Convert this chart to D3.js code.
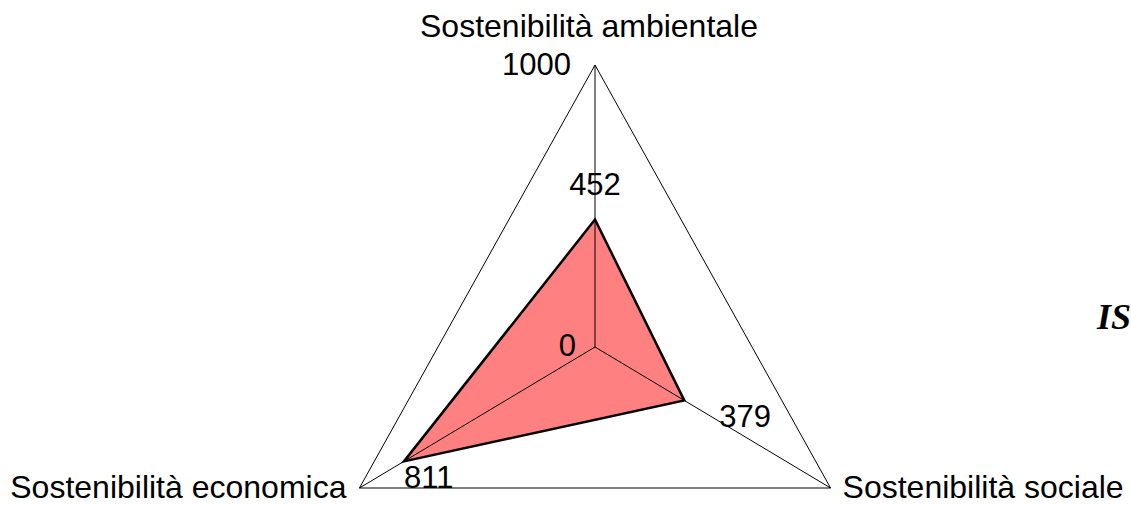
<!DOCTYPE html>
<html>
<head>
<meta charset="utf-8">
<script src="https://cdn.jsdelivr.net/npm/d3@7"></script>
<style>
  body { margin: 0; background: #fff; }
  text { font-family: "Liberation Sans", Arial, sans-serif; fill: #000; }
</style>
</head>
<body>
<div id="chart"></div>
<script>
// data
const axes = ["Sostenibilità ambientale", "Sostenibilità sociale", "Sostenibilità economica"];
const values = [452, 379, 811];
const maxValue = 1000;
const seriesName = "IS";

const W = 1131, H = 506;
const cx = 595, cy = 347;
const rx = 272, ry = 282;

const svg = d3.select("#chart").append("svg")
  .attr("width", W).attr("height", H);

const r = d3.scaleLinear().domain([0, maxValue]).range([0, 1]);
const angle = i => (i * 2 * Math.PI) / axes.length;
const pt = (i, v) => [cx + Math.sin(angle(i)) * rx * r(v), cy - Math.cos(angle(i)) * ry * r(v)];

// series polygon
const line = d3.line();
svg.append("path")
  .attr("d", line(values.map((v, i) => pt(i, v))) + "Z")
  .attr("fill", "#ff8080")
  .attr("stroke", "none");

// grid: outer triangle + spokes
svg.append("path")
  .attr("d", line(axes.map((a, i) => pt(i, maxValue))) + "Z")
  .attr("fill", "none").attr("stroke", "#000").attr("stroke-width", 1);
axes.forEach((a, i) => {
  const [x, y] = pt(i, maxValue);
  svg.append("line").attr("x1", cx).attr("y1", cy).attr("x2", x).attr("y2", y)
    .attr("stroke", "#000").attr("stroke-width", 1);
});

svg.append("path")
  .attr("d", line(values.map((v, i) => pt(i, v))) + "Z")
  .attr("fill", "none")
  .attr("stroke", "#000")
  .attr("stroke-width", 2.5)
  .attr("stroke-linejoin", "miter");

// axis labels
const fs = 32, fn = 31;
const [tx, ty] = pt(0, maxValue);
svg.append("text").attr("x", tx - 6).attr("y", 37).attr("text-anchor", "middle")
  .style("font-size", fs + "px").text(axes[0]);
const [sx, sy] = pt(1, maxValue);
svg.append("text").attr("x", sx + 12).attr("y", 498).attr("text-anchor", "start")
  .style("font-size", fs + "px").text(axes[1]);
const [ex, ey] = pt(2, maxValue);
svg.append("text").attr("x", ex - 13).attr("y", 498).attr("text-anchor", "end")
  .style("font-size", fs + "px").text(axes[2]);

// scale labels
svg.append("text").attr("x", tx - 24).attr("y", 75).attr("text-anchor", "end")
  .style("font-size", fn + "px").text(maxValue);
svg.append("text").attr("x", cx - 19).attr("y", 356).attr("text-anchor", "end")
  .style("font-size", fn + "px").text(0);

// value labels
const p0 = pt(0, values[0]);
svg.append("text").attr("x", p0[0]).attr("y", p0[1] - 25).attr("text-anchor", "middle")
  .style("font-size", fn + "px").text(values[0]);
const p1 = pt(1, values[1]);
svg.append("text").attr("x", p1[0] + 35).attr("y", p1[1] + 27).attr("text-anchor", "start")
  .style("font-size", fn + "px").text(values[1]);
const p2 = pt(2, values[2]);
svg.append("text").attr("x", p2[0]).attr("y", p2[1] + 27).attr("text-anchor", "start")
  .style("font-size", fn + "px").text(values[2]);

// legend
svg.append("text").attr("x", 1097).attr("y", 329)
  .style("font-family", "'Liberation Serif', 'Times New Roman', serif")
  .style("font-weight", "bold").style("font-style", "italic")
  .style("font-size", "36px").text(seriesName);
</script>
</body>
</html>
